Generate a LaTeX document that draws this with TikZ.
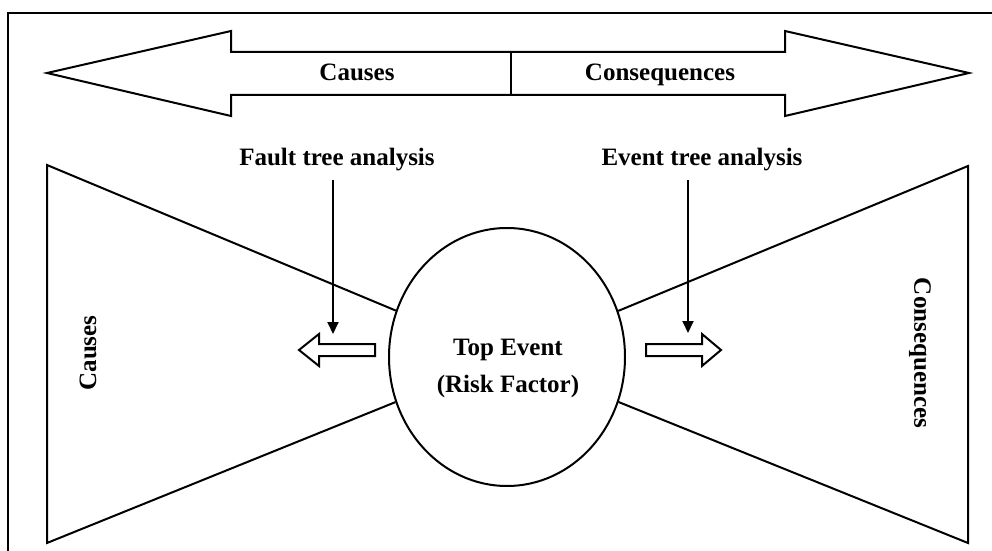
\documentclass[tikz,border=0pt]{standalone}
\usepackage{fontspec}
\setmainfont{Liberation Serif}
\usetikzlibrary{shapes.geometric,arrows.meta}
\tikzset{
  lbl/.style={font=\fontsize{12.5}{14}\selectfont\bfseries, inner sep=1pt},
  outline/.style={line width=1pt, line join=miter},
  pointer/.style={line width=1pt, shorten <=3pt, -{Triangle[length=6pt,width=5.5pt]}},
}

\begin{document}
\begin{tikzpicture}[x=0.5pt,y=-0.5pt]
  \useasboundingbox (0,0) rectangle (992,551);
  % frame
  \draw[line width=1.2pt] (8,551) -- (8,13) -- (992,13);
  % double arrow on top
  \draw[outline] (47,73) -- (231,31) -- (231,52) -- (785,52) -- (785,31) -- (969,73)
    -- (785,116) -- (785,95) -- (231,95) -- (231,116) -- cycle;
  \draw[outline] (511,52) -- (511,95);
  \node[lbl, anchor=base] (causes) at (357,81) {Causes};
  \node[lbl, anchor=base] (conseq) at (660,81) {Consequences};
  % top event
  \node[draw, ellipse, line width=1pt, minimum width=118pt, minimum height=129pt, inner sep=0pt] (top) at (507,357) {};
  \node[lbl, align=center, font=\fontsize{12.5}{18.5}\selectfont\bfseries] (toptext) at (508,368) {Top Event\\(Risk Factor)};
  % left bow
  \coordinate (ltop) at (47,165); \coordinate (lbot) at (47,543);
  \draw[outline] (top) -- (ltop) -- (lbot) -- (top);
  \node[lbl, rotate=90] (causesv) at (88,353) {Causes};
  % right bow
  \coordinate (rtop) at (968,166); \coordinate (rbot) at (968,543);
  \draw[outline] (top) -- (rtop) -- (rbot) -- (top);
  \node[lbl, rotate=-90] (conseqv) at (920,353) {Consequences};
  % analysis labels
  \node[lbl, anchor=base] (fta) at (337,166) {Fault tree analysis};
  \node[lbl, anchor=base] (eta) at (702,166) {Event tree analysis};
  \coordinate (fdown) at (333,334); \coordinate (edown) at (688,333);
  \draw[pointer] (fta.south -| fdown) -- (fdown);
  \draw[pointer] (eta.south -| edown) -- (edown);
  % small open arrows
  \draw[outline] (299,350) -- (319,334) -- (319,344) -- (375,344) -- (375,356) -- (319,356) -- (319,366) -- cycle;
  \draw[outline] (721,350) -- (702,334) -- (702,344) -- (646,344) -- (646,356) -- (702,356) -- (702,366) -- cycle;
\end{tikzpicture}
\end{document}
